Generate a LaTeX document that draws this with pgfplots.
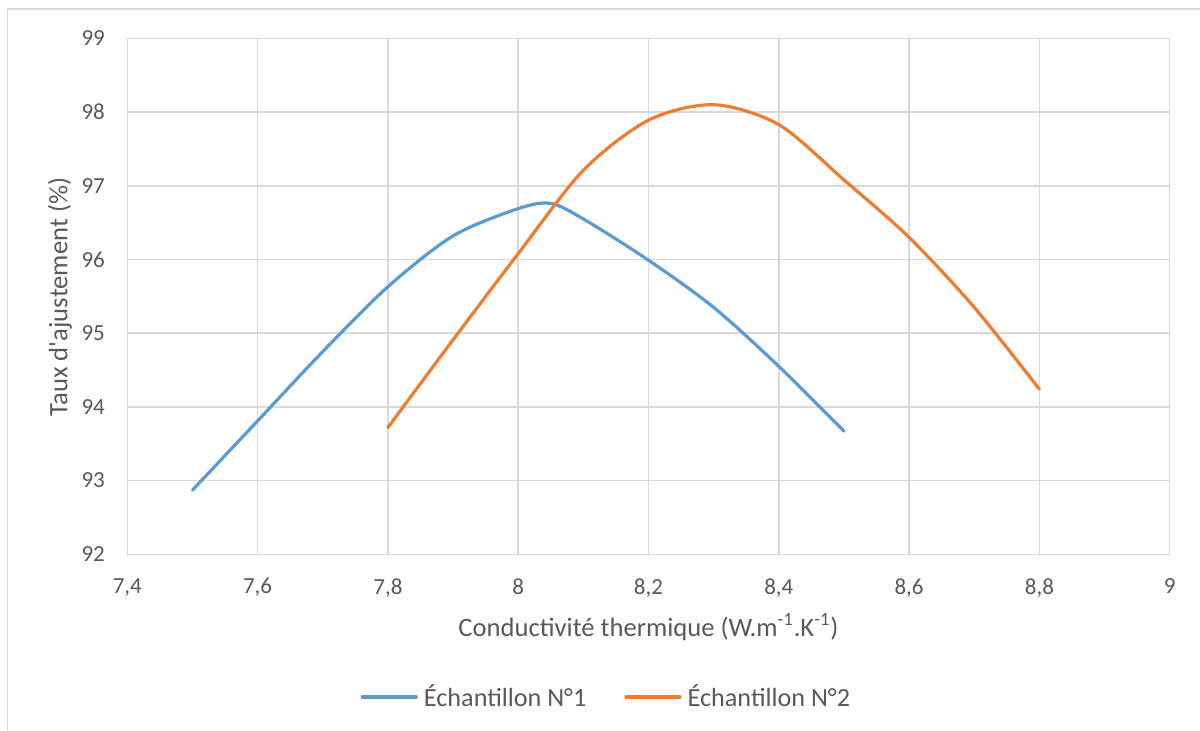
\documentclass[border=0pt]{standalone}
\usepackage{pgfplots}
\pgfplotsset{compat=1.18}
\usepackage{fontspec}
\setmainfont{Carlito}
\definecolor{xblue}{HTML}{5B9BD5}
\definecolor{xorange}{HTML}{ED7D31}
\definecolor{xgrid}{HTML}{D9D9D9}
\definecolor{xtext}{HTML}{595959}
\begin{document}
\begin{tikzpicture}
\useasboundingbox (0,0) rectangle (600pt,365.5pt);
\draw[xgrid, line width=0.75pt] (3.75pt,0pt) -- (3.75pt,361pt) -- (600pt,361pt);
\begin{axis}[
  at={(63.65pt,88.35pt)}, anchor=south west,
  scale only axis, width=521.2pt, height=257.95pt,
  xmin=7.4, xmax=9, ymin=92, ymax=99,
  xtick={7.4,7.6,7.8,8,8.2,8.4,8.6,8.8,9},
  ytick={92,93,94,95,96,97,98,99},
  grid=major,
  major grid style={xgrid, line width=0.75pt},
  axis line style={xgrid, line width=0.75pt},
  tick style={draw=none}, major tick length=0pt,
  /pgf/number format/use comma,
  /pgf/number format/assume math mode=true,
  ticklabel style={font=\fontsize{11.5}{13}\selectfont, text=xtext},
  xticklabel style={anchor=north, inner sep=0pt, yshift=-11.85pt},
  yticklabel style={anchor=east, inner sep=0pt, xshift=-11pt},
  xlabel={Conductivité thermique (W.m\textsuperscript{-1}.K\textsuperscript{-1})},
  ylabel={Taux d\textquotesingle ajustement (\%)},
  label style={font=\fontsize{13.3}{16}\selectfont, text=xtext},
  xlabel style={at={(axis description cs:0.5,-0.1409)}, anchor=center},
  ylabel style={at={(axis description cs:-0.0646,0.4988)}, anchor=center},
  legend columns=2,
  legend style={at={(axis description cs:0.4616,-0.2766)}, anchor=center,
    draw=none, fill=none, inner sep=0pt,
    font=\fontsize{13.1}{16}\selectfont, text=xtext,
    nodes={inner xsep=3pt, inner ysep=1pt},
    /tikz/every even column/.append style={column sep=16pt}},
  legend image code/.code={\draw[#1, line width=1.6pt, line cap=round] (0pt,0pt) -- (27pt,0pt);},
]
\addplot[xblue, line width=1.6pt, smooth, tension=0.5, line cap=round] coordinates {
  (7.5,92.87) (7.6,93.81) (7.7,94.75) (7.8,95.63) (7.9,96.32) (8.0,96.69)
  (8.05,96.76) (8.1,96.55) (8.2,95.99) (8.3,95.35) (8.4,94.55) (8.5,93.67)
};
\addlegendentry{Échantillon N°1}
\addplot[xorange, line width=1.6pt, smooth, tension=0.5, line cap=round] coordinates {
  (7.8,93.72) (7.9,94.91) (8.0,96.08) (8.1,97.21) (8.2,97.89) (8.3,98.10)
  (8.4,97.83) (8.5,97.08) (8.6,96.30) (8.7,95.35) (8.8,94.24)
};
\addlegendentry{Échantillon N°2}
\end{axis}
\end{tikzpicture}
\end{document}
